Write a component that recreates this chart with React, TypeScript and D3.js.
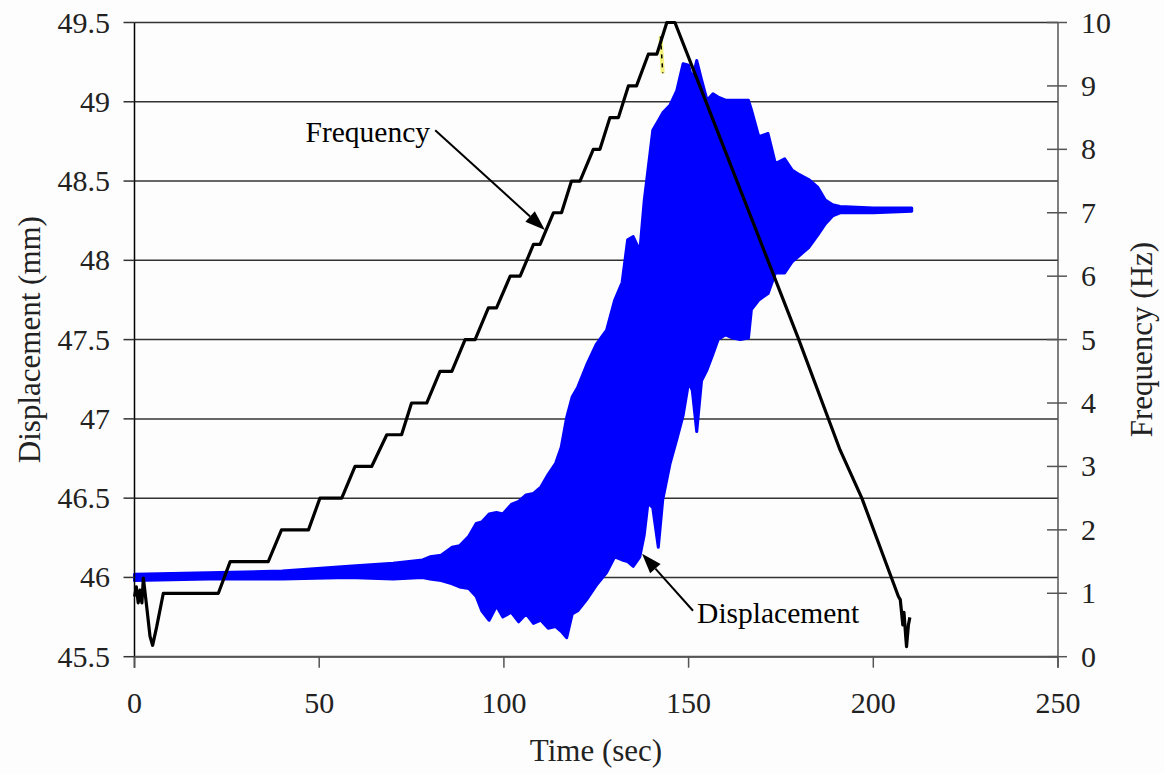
import React from "react";
import * as d3 from "d3";

// ---- Data ----
const xTicks = [0, 50, 100, 150, 200, 250];
const leftTicks = [45.5, 46, 46.5, 47, 47.5, 48, 48.5, 49, 49.5];
const rightTicks = [0, 1, 2, 3, 4, 5, 6, 7, 8, 9, 10];

// Frequency (Hz) vs time (sec)
const freqTime = [0, 0.5, 1, 1.5, 2, 2.4, 3.3, 4.2, 4.9, 6.0, 7.8, 22.7, 25.9, 36.2, 39.8, 47.1, 50.2, 56.1, 59.7, 64.2, 68.3, 72.3, 75.0, 79.1, 82.7, 85.9, 89.5, 92.2, 95.8, 98.0, 101.7, 104.4, 108.0, 109.8, 113.4, 115.6, 118.3, 120.6, 124.2, 126.0, 128.7, 131.0, 133.7, 135.9, 139.1, 141.4, 144.1, 146.3, 153.1, 179.7, 191.0, 196.9, 206.8, 207.3, 208.0, 208.3, 208.8, 209.0, 209.5, 209.9];
const freqValue = [0.95, 1.1, 0.85, 1.05, 0.85, 1.24, 0.79, 0.32, 0.18, 0.47, 1.0, 1.0, 1.5, 1.5, 2.0, 2.0, 2.5, 2.5, 3.0, 3.0, 3.5, 3.5, 4.0, 4.0, 4.5, 4.5, 5.0, 5.0, 5.5, 5.5, 6.0, 6.0, 6.5, 6.5, 7.0, 7.0, 7.5, 7.5, 8.0, 8.0, 8.5, 8.5, 9.0, 9.0, 9.5, 9.5, 10.0, 10.0, 8.99, 5.02, 3.26, 2.5, 0.95, 0.9, 0.5, 0.7, 0.3, 0.16, 0.5, 0.62];

// Faint yellow trace fragments (Hz)
const yellowTime = [142.4, 142.7, 143.0];
const yellowValue = [9.78, 9.5, 9.2];

// Displacement (mm) envelope vs time (sec)
const dispTime = [0, 20, 40, 58, 70, 78, 80, 83, 86, 88, 90.5, 92.5, 94, 96, 98, 99.7, 102, 104, 106, 108, 110, 112, 114, 115.5, 117, 118.5, 120, 122.4, 125, 127.8, 130, 132, 133.5, 135, 136.8, 138, 139, 140.3, 141.8, 143, 145, 146.8, 148.5, 150, 151, 152.2, 153.5, 155, 156.6, 158, 160, 162, 164, 166.2, 167, 169, 171.5, 173.5, 176, 178, 180, 182.5, 185, 187, 189, 191, 200, 210.4];
const dispUpper = [46.02, 46.03, 46.04, 46.07, 46.09, 46.11, 46.13, 46.14, 46.19, 46.2, 46.26, 46.34, 46.35, 46.40, 46.41, 46.40, 46.46, 46.48, 46.52, 46.53, 46.57, 46.65, 46.72, 46.82, 47.01, 47.14, 47.20, 47.34, 47.47, 47.56, 47.75, 47.86, 48.13, 48.15, 48.06, 48.38, 48.57, 48.82, 48.88, 48.93, 48.98, 49.07, 49.24, 49.23, 49.14, 49.26, 49.14, 49.01, 49.05, 49.03, 49.01, 49.01, 49.01, 49.01, 48.95, 48.78, 48.80, 48.61, 48.64, 48.57, 48.54, 48.51, 48.46, 48.38, 48.35, 48.34, 48.33, 48.33];
const dispLower = [45.98, 45.99, 45.99, 46.0, 45.99, 46.0, 45.99, 45.98, 45.96, 45.94, 45.93, 45.88, 45.79, 45.73, 45.82, 45.75, 45.78, 45.72, 45.77, 45.71, 45.73, 45.68, 45.69, 45.66, 45.62, 45.77, 45.79, 45.86, 45.95, 46.03, 46.13, 46.11, 46.10, 46.07, 46.13, 46.27, 46.47, 46.44, 46.19, 46.49, 46.72, 46.87, 47.02, 47.23, 47.18, 46.92, 47.24, 47.31, 47.41, 47.50, 47.53, 47.51, 47.50, 47.51, 47.69, 47.75, 47.79, 47.92, 47.92, 47.99, 48.03, 48.08, 48.16, 48.23, 48.28, 48.30, 48.30, 48.31];

// Annotations (data coordinates)
const freqLabel = { text: "Frequency", t: 80, f: 8.12 };
const freqArrow = { t0: 81.4, f0: 8.3, t1: 111.1, f1: 6.73 };
const dispLabel = { text: "Displacement", t: 152.3, d: 45.71 };
const dispArrow = { t0: 151.2, d0: 45.79, t1: 137.4, d1: 46.15 };

const W = 1164;
const H = 774;
const FONT = "'Liberation Serif', 'Times New Roman', serif";

export default function App() {
  const x = d3.scaleLinear().domain([0, 250]).range([134.5, 1058]);
  const yL = d3.scaleLinear().domain([45.5, 49.5]).range([656.7, 22.5]);
  const yR = d3.scaleLinear().domain([0, 10]).range([656.7, 22.5]);

  const dispArea = d3
    .area<number>()
    .x((_, i) => x(dispTime[i]))
    .y0((_, i) => yL(dispLower[i]))
    .y1((_, i) => yL(dispUpper[i]))
    .curve(d3.curveLinear)(dispTime) as string;

  const freqLine = d3
    .line<number>()
    .x((_, i) => x(freqTime[i]))
    .y((_, i) => yR(freqValue[i]))(freqTime) as string;

  const yellowLine = d3
    .line<number>()
    .x((_, i) => x(yellowTime[i]))
    .y((_, i) => yR(yellowValue[i]))(yellowTime) as string;

  const x0 = x(0);
  const x1 = x(250);
  const yb = yL(45.5);
  const yt = yL(49.5);
  const tickColor = "#555";

  const arrow = (ax0: number, ay0: number, ax1: number, ay1: number) => {
    const ang = Math.atan2(ay1 - ay0, ax1 - ax0);
    const len = 20;
    const hw = 7;
    const bx = ax1 - len * Math.cos(ang);
    const by = ay1 - len * Math.sin(ang);
    const px = -Math.sin(ang) * hw;
    const py = Math.cos(ang) * hw;
    return (
      <g>
        <line x1={ax0} y1={ay0} x2={bx} y2={by} stroke="#000" strokeWidth={2} />
        <polygon points={`${ax1},${ay1} ${bx + px},${by + py} ${bx - px},${by - py}`} fill="#000" />
      </g>
    );
  };

  return (
    <svg
      width={W}
      height={H}
      style={{ position: "absolute", left: 0, top: 0, background: "#fdfdfd" }}
      fontFamily={FONT}
    >
      <rect x={0} y={0} width={W} height={H} fill="#fdfdfd" />
      {/* gridlines */}
      {leftTicks.map((v) => (
        <line key={"g" + v} x1={x0} x2={x1} y1={yL(v)} y2={yL(v)} stroke="#333" strokeWidth={1.5} />
      ))}
      {/* displacement envelope */}
      <path d={dispArea} fill="#0000ff" stroke="#0000ff" strokeWidth={3} strokeLinejoin="round" />
      {/* yellow trace */}
      <path d={yellowLine} fill="none" stroke="#f2f27a" strokeWidth={4} />
      {/* frequency line */}
      <path d={freqLine} fill="none" stroke="#000" strokeWidth={3.2} strokeLinejoin="round" />
      <path d={yellowLine} fill="none" stroke="#000" strokeWidth={1.5} strokeDasharray="4 5" />

      {/* axes */}
      <line x1={x0} x2={x0} y1={yt} y2={yb + 11} stroke="#000" strokeWidth={1.5} />
      <line x1={x1} x2={x1} y1={yt} y2={yb + 11} stroke={tickColor} strokeWidth={1.5} />
      <line x1={x0} x2={x1} y1={yb} y2={yb} stroke={tickColor} strokeWidth={2} />
      {leftTicks.map((v) => (
        <g key={"l" + v}>
          <line x1={x0 - 11} x2={x0} y1={yL(v)} y2={yL(v)} stroke="#333" strokeWidth={1.5} />
          <text x={110} y={yL(v) + 10} textAnchor="end" fontSize={30} fill="#222">
            {v}
          </text>
        </g>
      ))}
      {rightTicks.map((v) => (
        <g key={"r" + v}>
          <line x1={x1 - 11} x2={x1 + 9} y1={yR(v)} y2={yR(v)} stroke={tickColor} strokeWidth={1.5} />
          <text x={1081} y={yR(v) + 10} textAnchor="start" fontSize={30} fill="#222">
            {v}
          </text>
        </g>
      ))}
      {xTicks.map((v) => (
        <g key={"x" + v}>
          <line x1={x(v)} x2={x(v)} y1={yb} y2={yb + 11} stroke={tickColor} strokeWidth={1.5} />
          <text x={x(v)} y={713} textAnchor="middle" fontSize={30} fill="#222">
            {v}
          </text>
        </g>
      ))}

      {/* axis titles */}
      <text x={596} y={761} textAnchor="middle" fontSize={31} fill="#222">
        Time (sec)
      </text>
      <text
        transform={`translate(40, ${(yt + yb) / 2}) rotate(-90)`}
        textAnchor="middle"
        fontSize={31}
        fill="#222"
      >
        Displacement (mm)
      </text>
      <text
        transform={`translate(1152, ${(yt + yb) / 2}) rotate(-90)`}
        textAnchor="middle"
        fontSize={31}
        fill="#222"
      >
        Frequency (Hz)
      </text>

      {/* annotations */}
      <text x={x(freqLabel.t)} y={yR(freqLabel.f)} textAnchor="end" fontSize={29.5} fill="#000">
        {freqLabel.text}
      </text>
      {arrow(x(freqArrow.t0), yR(freqArrow.f0), x(freqArrow.t1), yR(freqArrow.f1))}
      <text x={x(dispLabel.t)} y={yL(dispLabel.d)} textAnchor="start" fontSize={29.5} fill="#000">
        {dispLabel.text}
      </text>
      {arrow(x(dispArrow.t0), yL(dispArrow.d0), x(dispArrow.t1), yL(dispArrow.d1))}
    </svg>
  );
}
